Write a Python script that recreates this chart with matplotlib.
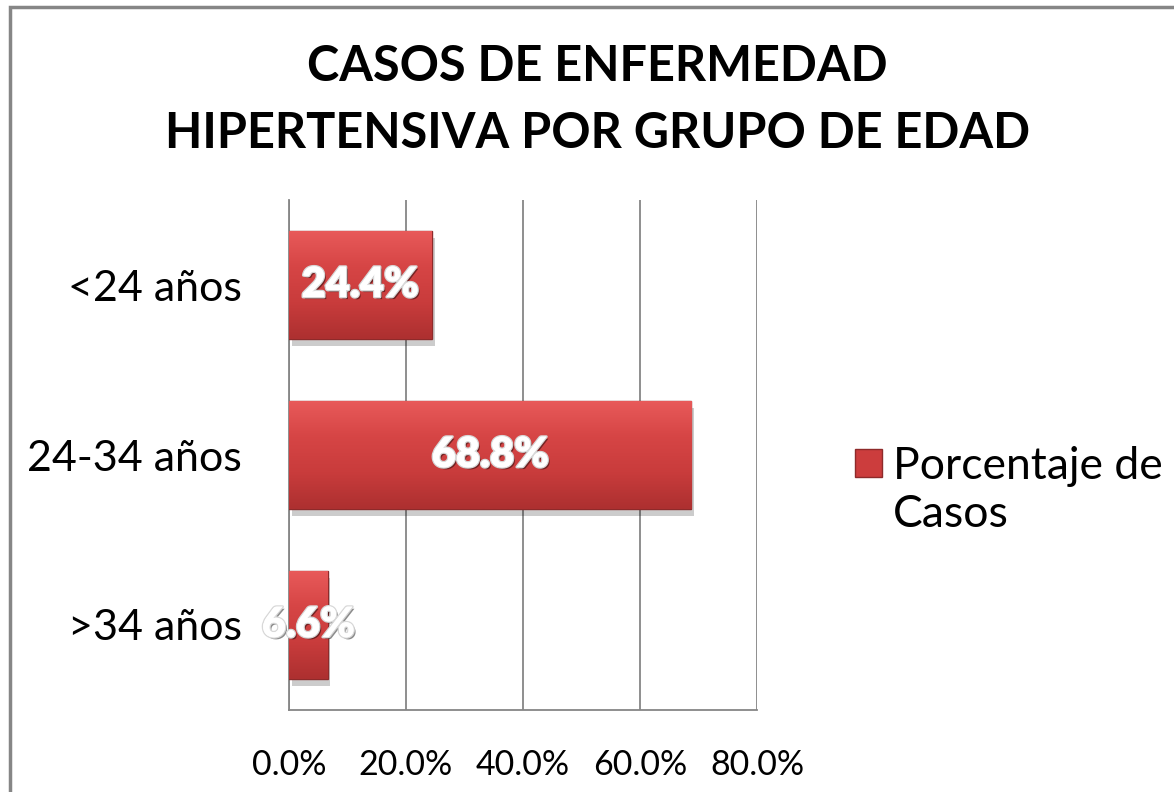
import numpy as np
import matplotlib.pyplot as plt
import matplotlib.patheffects as pe
from matplotlib.patches import Rectangle, Patch
from matplotlib.colors import LinearSegmentedColormap

categories = ['<24 años', '24-34 años', '>34 años']
values = [24.4, 68.8, 6.6]
xticks = [0, 20, 40, 60, 80]
series_name = ['Porcentaje de', 'Casos']

plt.rcParams['font.family'] = ['Lato', 'DejaVu Sans']

fig = plt.figure(figsize=(11.74, 7.92), dpi=100)
ax = fig.add_axes([289 / 1174, 1 - 710 / 792, 468 / 1174, 510 / 792])

ypos = list(range(len(categories)))
bars = ax.barh(ypos, values, height=0.64, color='#cc3d3d', edgecolor='#8e2a2a',
               linewidth=1.0, zorder=3)
for b in bars:
    b.set_path_effects([pe.SimplePatchShadow(offset=(2, -5), shadow_rgbFace='#000000', alpha=0.2),
                        pe.Normal()])

# vertical shading on each bar, like the bevelled fill
cmap = LinearSegmentedColormap.from_list('bev', ['#e85a5a', '#d64545', '#c93c3c', '#ad3030'])
grad = np.linspace(0, 1, 64).reshape(-1, 1)
for b in bars:
    x0, y0 = b.get_x(), b.get_y()
    im = ax.imshow(grad, cmap=cmap, aspect='auto', zorder=3.5,
                   extent=(x0, x0 + b.get_width(), y0 + b.get_height(), y0))
    im.set_clip_path(b)

ax.set_ylim(len(categories) - 0.5, -0.5)
ax.set_xlim(0, 80)
ax.set_xticks(xticks)
ax.set_xticklabels([f'{t:.1f}%' for t in xticks], fontsize=24.5)
ax.set_yticks(ypos)
ax.set_yticklabels(categories, fontsize=31)
ax.tick_params(axis='both', length=0)
ax.tick_params(axis='x', pad=28)
ax.tick_params(axis='y', pad=34)
ax.grid(axis='x', color='#868686', linewidth=1.3, zorder=0)
for s in ['top', 'right']:
    ax.spines[s].set_visible(False)
for s in ['left', 'bottom']:
    ax.spines[s].set_color('#868686')
    ax.spines[s].set_linewidth(1.3)

for i, v in enumerate(values):
    ax.text(v / 2, i, f'{v:.1f}%', ha='center', va='center', color='white',
            fontsize=30, fontweight='heavy', zorder=5,
            path_effects=[pe.withSimplePatchShadow(offset=(1.5, -1.5), shadow_rgbFace='#000000', alpha=0.45),
                          pe.withStroke(linewidth=2, foreground='#d8d8d8'), pe.Normal()])

fig.text(0.509, 0.874, 'CASOS DE ENFERMEDAD\nHIPERTENSIVA POR GRUPO DE EDAD',
         ha='center', va='center', fontsize=35, fontweight='bold', linespacing=1.6)

# label wraps onto a second line; the swatch sits beside the first line only
handles = [Patch(facecolor='#cc3d3d', edgecolor='#8e2a2a'), Patch(visible=False)]
leg = fig.legend(handles=handles, labels=series_name, loc='upper left',
                 bbox_to_anchor=(0.7095, 0.465), frameon=False, fontsize=32,
                 handlelength=0.6, handleheight=0.6, handletextpad=0.25,
                 labelspacing=0.15, borderpad=0)

fig.patches.append(Rectangle((10 / 1174, -0.1), 1.2, 1 - 7 / 792 + 0.1, transform=fig.transFigure,
                             fill=False, edgecolor='#868686', linewidth=2.5))

fig.savefig('out.png', dpi=100)
